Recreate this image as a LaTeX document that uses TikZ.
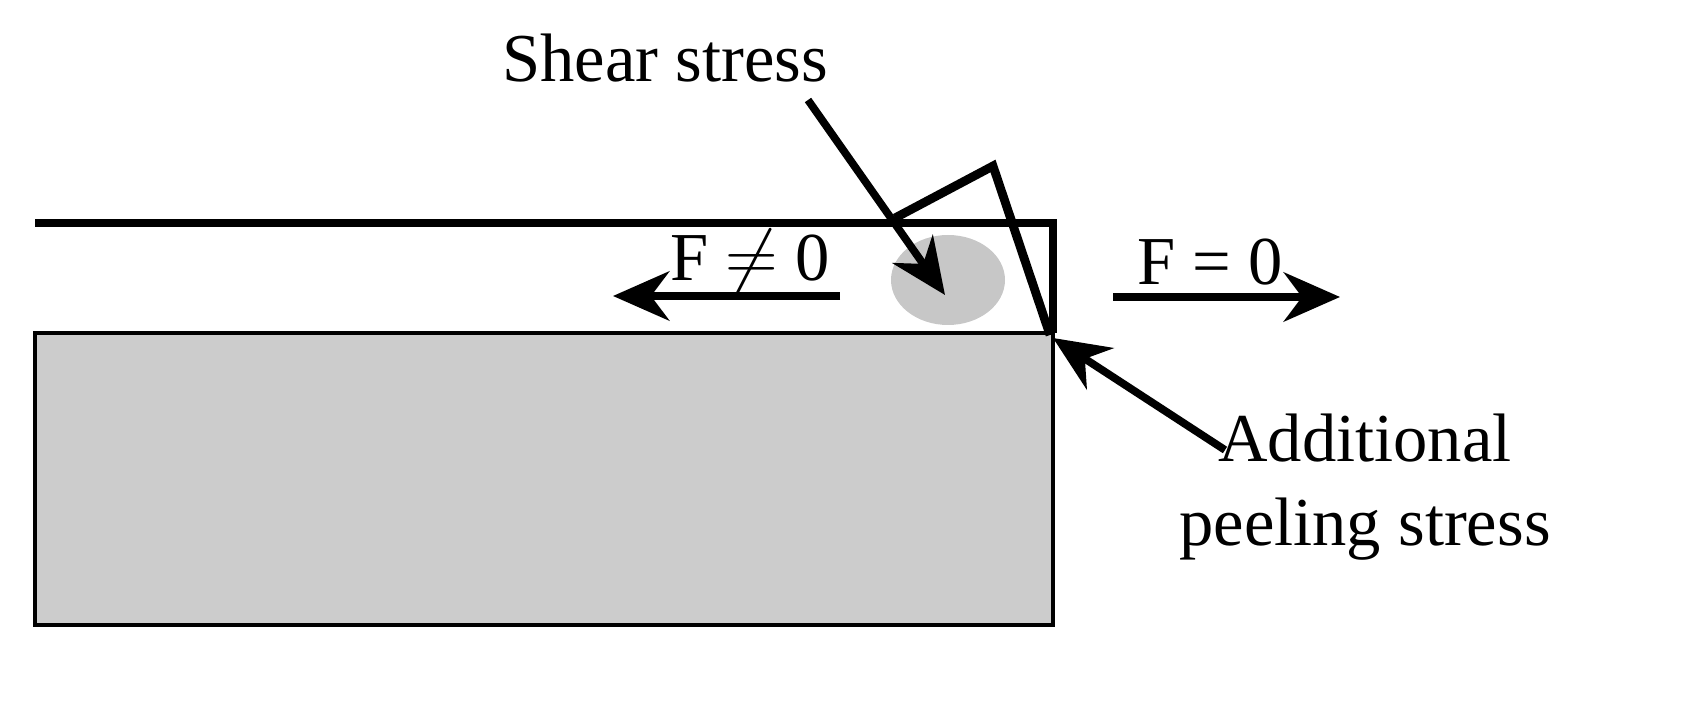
\documentclass[tikz,border=0pt]{standalone}
\usepackage{fontspec}
\setmainfont{Liberation Serif}
\usetikzlibrary{arrows.meta}
\begin{document}
\begin{tikzpicture}[x=0.01cm,y=-0.01cm]
    % Styles
    \tikzset{label/.style={font=\fontsize{19.5}{24}\selectfont, inner sep=0pt},
             arrow/.style={line width=2.2pt,-{Stealth[length=16pt,width=14pt]}}}
    \useasboundingbox (0,0) rectangle (1681,704);
    % Substrate and film
    \draw[fill=black!20, line width=1.3pt] (35,333) rectangle (1053,625);
    \draw[line width=2.5pt] (35,223) -- (1053,223) -- (1053,333);
    \fill[black!22] (948,280) ellipse (57 and 45);
    \draw[line width=2.5pt, line join=miter] (895,218) -- (993,166) -- (1050,335);
    % Labels
    \node (shear) [label] at (665,58) {Shear stress};
    \node (fne) [label] at (750,262) {F $\neq$ 0};
    \node (feq) [label] at (1210,262) {F = 0};
    \node (peel) [label, align=center] at (1365,487) {Additional\\peeling stress};
    \coordinate (c) at (945,295);
    \coordinate (edge) at (1053,338);
    \coordinate (fl1) at (840,296); \coordinate (fl2) at (613,296);
    \coordinate (fr1) at (1113,297); \coordinate (fr2) at (1340,297);
    \coordinate (p) at (1225,450);
    % Arrows
    \draw[arrow] (808,100) -- (c);
    \draw[arrow] (fl1) -- (fl2);
    \draw[arrow] (fr1) -- (fr2);
    \draw[arrow] (p) -- (edge);
\end{tikzpicture}
\end{document}
